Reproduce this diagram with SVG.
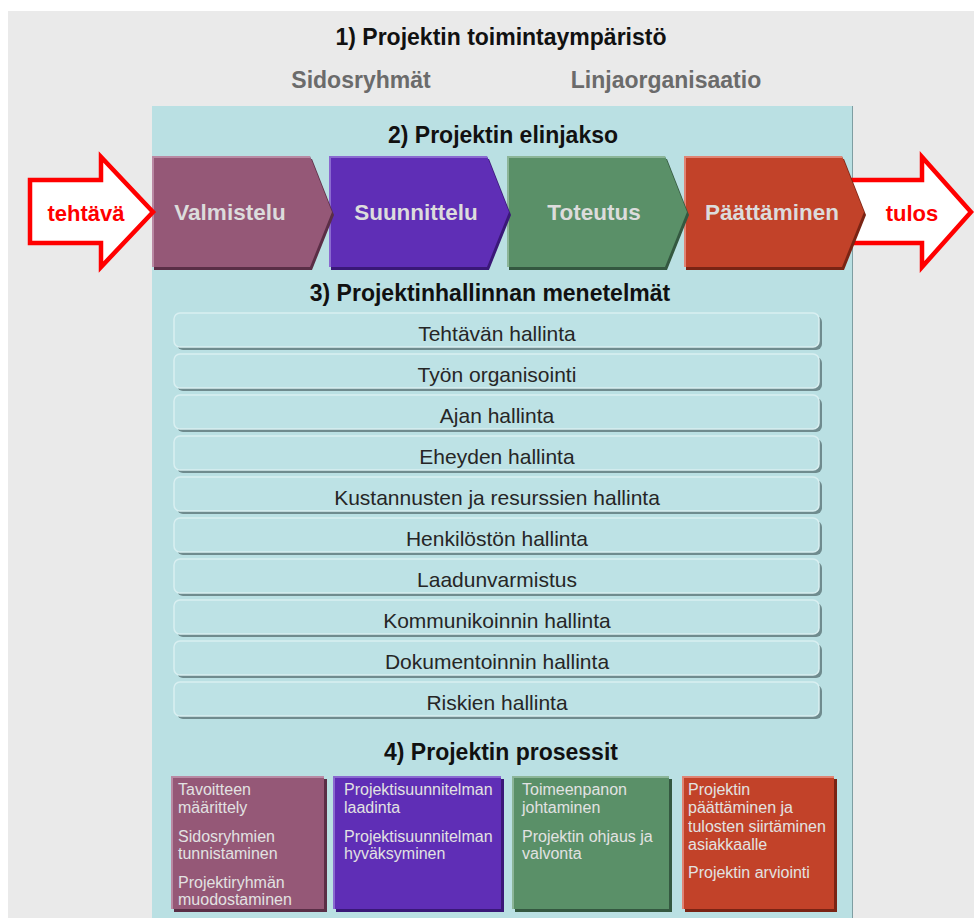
<svg xmlns="http://www.w3.org/2000/svg" width="974" height="918" viewBox="0 0 974 918">
  <defs>
    <style>
      .title { font-family: "Liberation Sans", Arial, sans-serif; font-weight: bold; font-size: 23px; fill: #111; text-anchor: middle; }
      .sub { font-family: "Liberation Sans", Arial, sans-serif; font-weight: bold; font-size: 23px; fill: #6b6b6b; text-anchor: middle; }
      .phase { font-family: "Liberation Sans", Arial, sans-serif; font-weight: bold; font-size: 22.5px; fill: #dcdcdc; text-anchor: middle; }
      .io { font-family: "Liberation Sans", Arial, sans-serif; font-weight: bold; font-size: 22px; fill: #ff0000; text-anchor: middle; }
      .method { font-family: "Liberation Sans", Arial, sans-serif; font-size: 21px; fill: #262626; text-anchor: middle; }
      .proc { font-family: "Liberation Sans", Arial, sans-serif; font-size: 16px; fill: #e2e2e2; }
      .bar { fill: #bde2e5; stroke: #d9eff1; stroke-width: 1.5; }
      .barShadow { fill: #6f8b8e; }
      .bigArrow { fill: #ffffff; stroke: #ff0000; stroke-width: 4.5; stroke-linejoin: miter; }
      .c1 { fill: #955877; } .c1s { fill: #5a2e46; } .c1h { stroke: #b98aa4; }
      .c2 { fill: #5f2eb6; } .c2s { fill: #3a1878; } .c2h { stroke: #8a6ad0; }
      .c3 { fill: #5a9068; } .c3s { fill: #345840; } .c3h { stroke: #8cb598; }
      .c4 { fill: #c24229; } .c4s { fill: #7a2414; } .c4h { stroke: #e08474; }
      .hl { fill: none; stroke-width: 2; }
    </style>
  </defs>

  <!-- background panels -->
  <rect x="0" y="0" width="974" height="918" fill="#ffffff"/>
  <rect x="8" y="11" width="966" height="907" fill="#eaeaea"/>
  <rect x="152" y="106" width="700" height="812" fill="#bae0e3"/>
  <line x1="852.5" y1="106" x2="852.5" y2="918" stroke="#7f9ea2" stroke-width="1"/>

  <!-- headings -->
  <text class="title" x="501" y="45">1) Projektin toimintaympäristö</text>
  <text class="sub" x="361" y="88">Sidosryhmät</text>
  <text class="sub" x="666" y="88">Linjaorganisaatio</text>
  <text class="title" x="503" y="143">2) Projektin elinjakso</text>
  <text class="title" x="490" y="301">3) Projektinhallinnan menetelmät</text>
  <text class="title" x="501" y="760">4) Projektin prosessit</text>

  <!-- output arrow (drawn under the last phase) -->
  <g id="connectors">
    <g id="arrow-out">
      <polygon class="bigArrow" points="840,180 922,180 922,157 971,212 922,267 922,243 840,243"/>
      <text class="io" x="912" y="221">tulos</text>
    </g>
  </g>

  <!-- life-cycle phases, drawn right to left so each tip overlaps the next box -->
  <g id="phase-paattaminen">
    <polygon class="c4s" points="686,159 844,159 866,215 844,270 686,270"/>
    <polygon class="c4" points="684,156 842,156 864,212 842,267 684,267"/>
    <polyline class="hl c4h" points="685,267 685,157 842,157"/>
    <text class="phase" x="772" y="220">Päättäminen</text>
  </g>
  <g id="phase-toteutus">
    <polygon class="c3s" points="509,159 667,159 689,215 667,270 509,270"/>
    <polygon class="c3" points="507,156 665,156 687,212 665,267 507,267"/>
    <polyline class="hl c3h" points="508,267 508,157 665,157"/>
    <text class="phase" x="594" y="220">Toteutus</text>
  </g>
  <g id="phase-suunnittelu">
    <polygon class="c2s" points="331,159 489,159 511,215 489,270 331,270"/>
    <polygon class="c2" points="329,156 487,156 509,212 487,267 329,267"/>
    <polyline class="hl c2h" points="330,267 330,157 487,157"/>
    <text class="phase" x="416" y="220">Suunnittelu</text>
  </g>
  <g id="phase-valmistelu">
    <polygon class="c1s" points="154,159 312,159 334,215 312,270 154,270"/>
    <polygon class="c1" points="152,156 310,156 332,212 310,267 152,267"/>
    <polyline class="hl c1h" points="153,267 153,157 310,157"/>
    <text class="phase" x="230" y="220">Valmistelu</text>
  </g>

  <!-- input arrow -->
  <g id="arrow-in">
    <polygon class="bigArrow" points="30,180 101,180 101,157 153,212 101,267 101,243 30,243"/>
    <text class="io" x="86" y="221">tehtävä</text>
  </g>

  <!-- management methods -->
  <g id="method-1"><rect class="barShadow" x="177" y="316" width="645" height="34" rx="6"/><rect class="bar" x="174" y="313" width="645" height="34" rx="6"/><text class="method" x="497" y="341">Tehtävän hallinta</text></g>
  <g id="method-2"><rect class="barShadow" x="177" y="357" width="645" height="34" rx="6"/><rect class="bar" x="174" y="354" width="645" height="34" rx="6"/><text class="method" x="497" y="382">Työn organisointi</text></g>
  <g id="method-3"><rect class="barShadow" x="177" y="398" width="645" height="34" rx="6"/><rect class="bar" x="174" y="395" width="645" height="34" rx="6"/><text class="method" x="497" y="423">Ajan hallinta</text></g>
  <g id="method-4"><rect class="barShadow" x="177" y="439" width="645" height="34" rx="6"/><rect class="bar" x="174" y="436" width="645" height="34" rx="6"/><text class="method" x="497" y="464">Eheyden hallinta</text></g>
  <g id="method-5"><rect class="barShadow" x="177" y="480" width="645" height="34" rx="6"/><rect class="bar" x="174" y="477" width="645" height="34" rx="6"/><text class="method" x="497" y="505">Kustannusten ja resurssien hallinta</text></g>
  <g id="method-6"><rect class="barShadow" x="177" y="521" width="645" height="34" rx="6"/><rect class="bar" x="174" y="518" width="645" height="34" rx="6"/><text class="method" x="497" y="546">Henkilöstön hallinta</text></g>
  <g id="method-7"><rect class="barShadow" x="177" y="562" width="645" height="34" rx="6"/><rect class="bar" x="174" y="559" width="645" height="34" rx="6"/><text class="method" x="497" y="587">Laadunvarmistus</text></g>
  <g id="method-8"><rect class="barShadow" x="177" y="603" width="645" height="34" rx="6"/><rect class="bar" x="174" y="600" width="645" height="34" rx="6"/><text class="method" x="497" y="628">Kommunikoinnin hallinta</text></g>
  <g id="method-9"><rect class="barShadow" x="177" y="644" width="645" height="34" rx="6"/><rect class="bar" x="174" y="641" width="645" height="34" rx="6"/><text class="method" x="497" y="669">Dokumentoinnin hallinta</text></g>
  <g id="method-10"><rect class="barShadow" x="177" y="685" width="645" height="34" rx="6"/><rect class="bar" x="174" y="682" width="645" height="34" rx="6"/><text class="method" x="497" y="710">Riskien hallinta</text></g>

  <!-- project processes -->
  <g id="process-valmistelu">
    <rect class="c1s" x="174" y="779" width="153" height="133"/>
    <rect class="c1" x="171" y="776" width="153" height="133"/>
    <polyline class="hl c1h" points="172,909 172,777 324,777"/>
    <text class="proc" x="178" y="795">Tavoitteen</text>
    <text class="proc" x="178" y="813">määrittely</text>
    <text class="proc" x="178" y="842">Sidosryhmien</text>
    <text class="proc" x="178" y="859">tunnistaminen</text>
    <text class="proc" x="178" y="888">Projektiryhmän</text>
    <text class="proc" x="178" y="905">muodostaminen</text>
  </g>
  <g id="process-suunnittelu">
    <rect class="c2s" x="336" y="779" width="168" height="133"/>
    <rect class="c2" x="333" y="776" width="168" height="133"/>
    <polyline class="hl c2h" points="334,909 334,777 501,777"/>
    <text class="proc" x="344" y="795">Projektisuunnitelman</text>
    <text class="proc" x="344" y="813">laadinta</text>
    <text class="proc" x="344" y="842">Projektisuunnitelman</text>
    <text class="proc" x="344" y="859">hyväksyminen</text>
  </g>
  <g id="process-toteutus">
    <rect class="c3s" x="515" y="779" width="157" height="133"/>
    <rect class="c3" x="512" y="776" width="157" height="133"/>
    <polyline class="hl c3h" points="513,909 513,777 669,777"/>
    <text class="proc" x="522" y="795">Toimeenpanon</text>
    <text class="proc" x="522" y="813">johtaminen</text>
    <text class="proc" x="522" y="842">Projektin ohjaus ja</text>
    <text class="proc" x="522" y="859">valvonta</text>
  </g>
  <g id="process-paattaminen">
    <rect class="c4s" x="685" y="779" width="152" height="133"/>
    <rect class="c4" x="682" y="776" width="152" height="133"/>
    <polyline class="hl c4h" points="683,909 683,777 834,777"/>
    <text class="proc" x="688" y="795">Projektin</text>
    <text class="proc" x="688" y="813">päättäminen ja</text>
    <text class="proc" x="688" y="832">tulosten siirtäminen</text>
    <text class="proc" x="688" y="850">asiakkaalle</text>
    <text class="proc" x="688" y="878">Projektin arviointi</text>
  </g>
</svg>
